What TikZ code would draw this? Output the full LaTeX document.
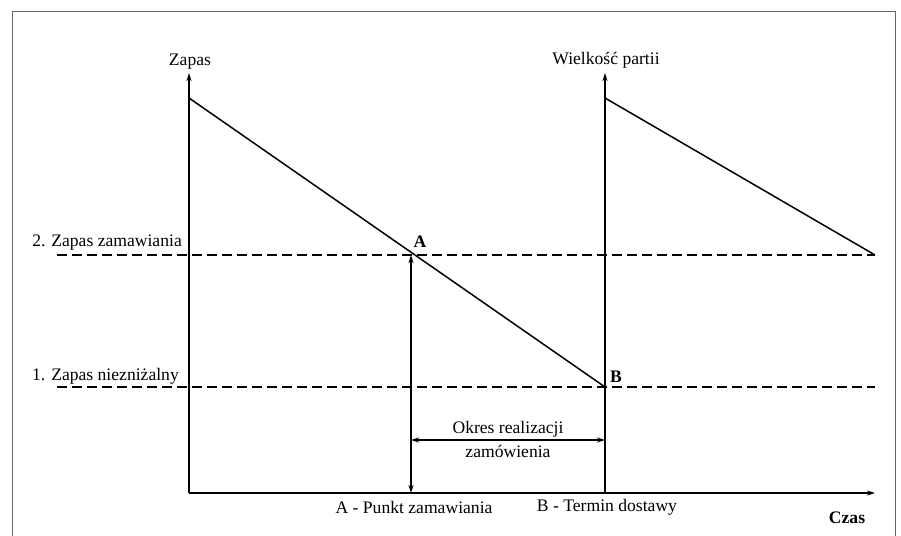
\documentclass[tikz,border=0pt]{standalone}
\usepackage{fontspec}
\setmainfont{Liberation Serif}
\usetikzlibrary{arrows.meta}
\begin{document}
\begin{tikzpicture}[x=1pt,y=-1pt,
  txt/.style={font=\fontsize{17.6}{21}\selectfont, inner sep=0pt},
  axis/.style={line width=1.5pt, -{Stealth[length=8pt,width=5pt]}},
  ln/.style={line width=1.5pt},
  dashline/.style={line width=1.4pt, dash pattern=on 10pt off 5pt},
  dbl/.style={line width=1.3pt, {Stealth[length=8pt,width=5pt]}-{Stealth[length=8pt,width=5pt]}}]
\useasboundingbox (0,0) rectangle (901,535);
% frame
\draw[gray!80!black, line width=1pt] (12.5,545) -- (12.5,11.5) -- (895,11.5) -- (895,545);
% coordinates
\coordinate (O) at (189,493);
\coordinate (Ytip) at (189,73);
\coordinate (Xtip) at (875,493);
\coordinate (S1) at (189,98);
\coordinate (A) at (411,255);
\coordinate (B) at (605,387);
\coordinate (Abot) at (411,493);
\coordinate (Bbot) at (605,493);
\coordinate (Y2tip) at (605,73);
\coordinate (S2) at (605,98);
\coordinate (E2) at (875,255);
\coordinate (D2l) at (57,255);
\coordinate (D2r) at (875,255);
\coordinate (D1l) at (57,387);
\coordinate (D1r) at (875,387);
\coordinate (Hl) at (411,440);
\coordinate (Hr) at (605,440);
% dashed levels
\draw[dashline] (D2l) -- (D2r);
\draw[dashline] (D1l) -- (D1r);
% axes
\draw[axis] (O) -- (Ytip);
\draw[axis] (O) -- (Xtip);
\draw[axis] (Bbot) -- (Y2tip);
% stock lines
\draw[ln] (S1) -- (B);
\draw[ln] (S2) -- (E2);
% order arrows
\draw[dbl] (A) -- (Abot);
\draw[dbl] (Hl) -- (Hr);
% labels
\node[txt] (zapas) at (190,62) {Zapas};
\node[txt] (wielk) at (606,60) {Wielkość partii};
\node[txt, anchor=east] (lz2) at (182,243) {2. Zapas zamawiania};
\node[txt, anchor=east] (lz1) at (179,376) {1. Zapas niezniżalny};
\node[txt, font=\fontsize{17.6}{21}\selectfont\bfseries] (lA) at (420,242) {A};
\node[txt, font=\fontsize{17.6}{21}\selectfont\bfseries] (lB) at (616,377) {B};
\node[txt] (okres) at (508,429) {Okres realizacji};
\node[txt] (zam) at (508,451) {zamówienia};
\node[txt] (pA) at (414,507) {A - Punkt zamawiania};
\node[txt] (pB) at (607,507) {B - Termin dostawy};
\node[txt, font=\fontsize{17.6}{21}\selectfont\bfseries] (czas) at (847,518) {Czas};
\end{tikzpicture}
\end{document}
